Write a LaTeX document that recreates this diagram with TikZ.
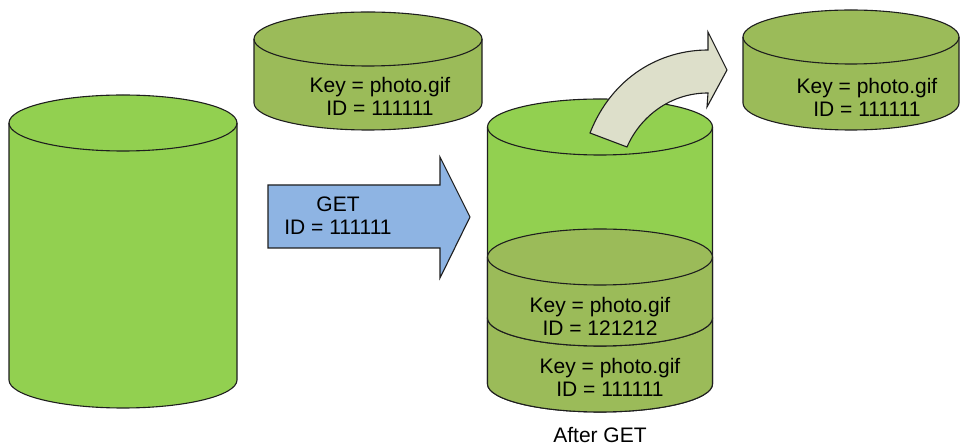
\documentclass[tikz,border=0pt]{standalone}
\usepackage{fontspec}
\setmainfont{Liberation Sans}
\definecolor{cgreen}{HTML}{92D050}
\definecolor{colive}{HTML}{9BBB59}
\definecolor{cblue}{HTML}{8EB4E3}
\definecolor{carrow}{HTML}{DDDFCA}
\definecolor{cline}{HTML}{1E1E1E}
\newcommand{\mycyl}[6]{%
  \fill[#6] ({#1-#4},#2) -- ({#1-#4},#3) arc[start angle=180,end angle=360,x radius=#4,y radius=#5] -- ({#1+#4},#2) -- cycle;
  \fill[#6] (#1,#2) ellipse[x radius=#4,y radius=#5];
  \draw[outl] ({#1-#4},#2) -- ({#1-#4},#3) arc[start angle=180,end angle=360,x radius=#4,y radius=#5] -- ({#1+#4},#2);
  \draw[outl] (#1,#2) ellipse[x radius=#4,y radius=#5];}
\begin{document}
\begin{tikzpicture}[x=1pt,y=1pt,
  outl/.style={draw=cline,line width=1.1pt},
  lbl/.style={font=\fontsize{21}{23.5}\selectfont,text=black,align=center,inner sep=0pt}]
\useasboundingbox (0,0) rectangle (962,447);
% left cylinder
\mycyl{123}{324}{67}{114}{28}{cgreen}
% top middle disk
\mycyl{368}{408}{344}{114}{27}{colive}
\node[lbl] (t1) at (380,350.5) {Key = photo.gif\\ID = 111111};
% right disk
\mycyl{851}{410}{344}{108}{27}{colive}
\node[lbl] (t2) at (867,349.5) {Key = photo.gif\\ID = 111111};
% middle cylinder
\mycyl{600}{320}{63}{112.5}{28}{cgreen}
\mycyl{600}{129}{63}{112.5}{28}{colive}
\mycyl{600}{190}{129}{112.5}{28}{colive}
\node[lbl] (t3) at (600,130.5) {Key = photo.gif\\ID = 121212};
\node[lbl] (t4) at (610,69.5) {Key = photo.gif\\ID = 111111};
\node[lbl] (t5) at (600,12) {After GET};
% blue arrow
\draw[outl,fill=cblue] (268,262) -- (440,262) -- (440,290) -- (470,230) -- (440,169) -- (440,199) -- (268,199) -- cycle;
\node[lbl] (t6) at (338,231.5) {GET\\ID = 111111};
% curved arrow
\draw[outl,fill=carrow,line join=miter] (590,314) .. controls (612,370) and (660,397) .. (708,397)
  -- (708,415) -- (727,377) -- (707,340) -- (708,354)
  .. controls (670,354) and (640,330) .. (627,300) -- cycle;
\end{tikzpicture}
\end{document}
